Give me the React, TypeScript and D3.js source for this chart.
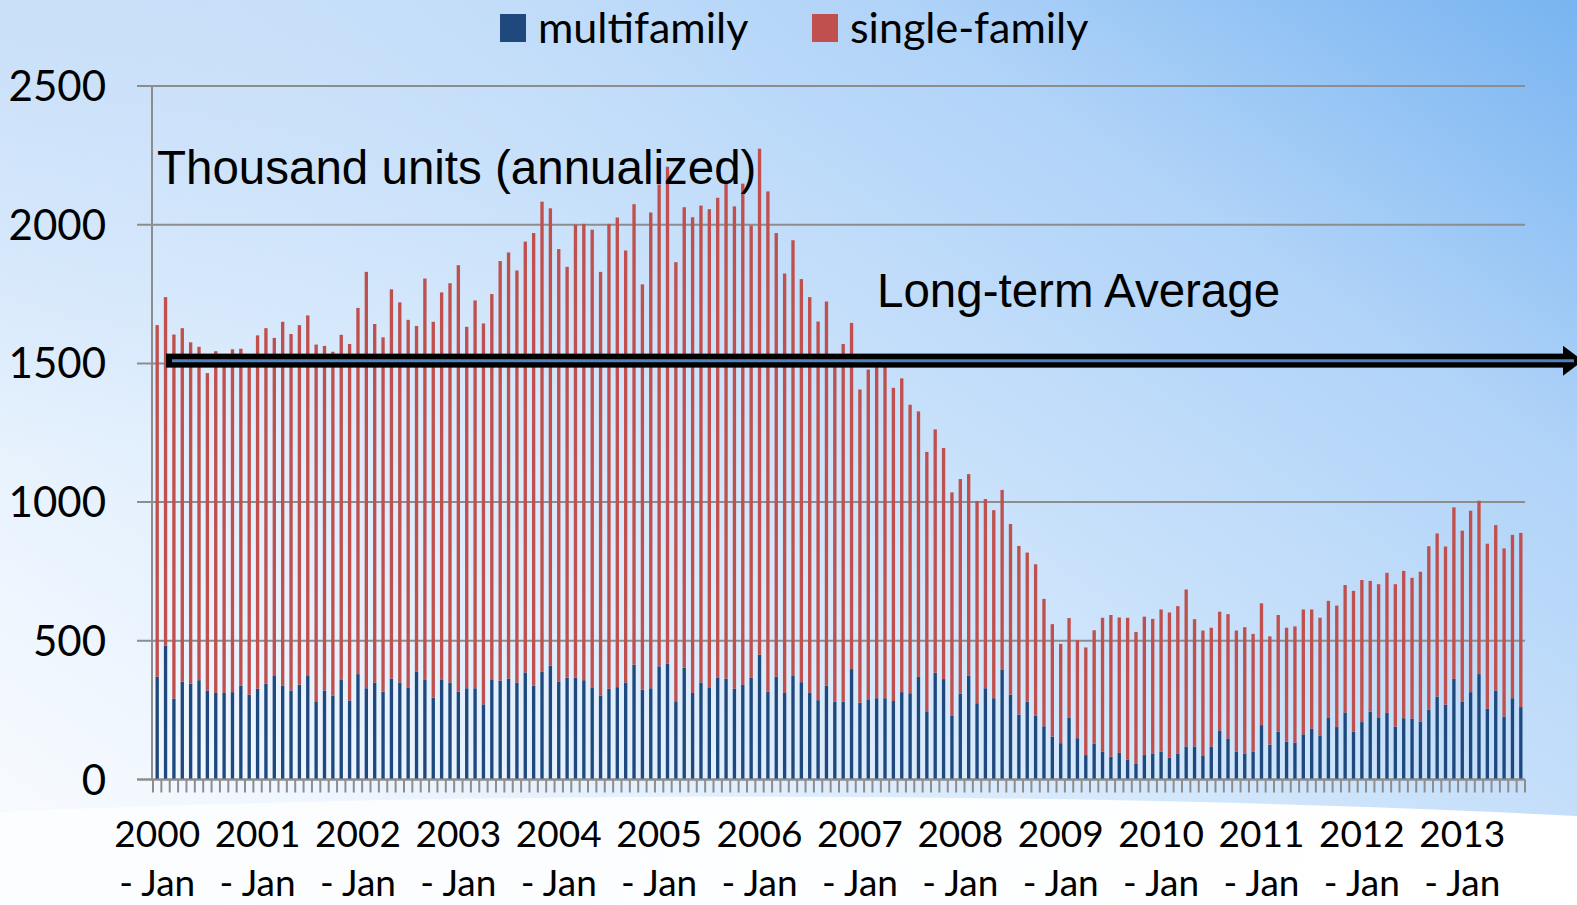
import { useEffect, useRef } from "react";
import * as d3 from "d3";

// Housing starts, thousand units (annualized), monthly Jan 2000 - Aug 2013
const YEARS = ["2000", "2001", "2002", "2003", "2004", "2005", "2006", "2007", "2008", "2009", "2010", "2011", "2012", "2013"];
const MONTH_NAMES = ["Jan", "Feb", "Mar", "Apr", "May", "Jun", "Jul", "Aug", "Sep", "Oct", "Nov", "Dec"];
const MONTH_COUNT = 164;

const MULTIFAMILY = [
  370, 483, 292, 353, 345, 358, 321, 312, 312, 315, 339, 306,
  327, 345, 373, 339, 321, 342, 373, 282, 321, 303, 361, 285,
  380, 329, 350, 317, 364, 350, 332, 388, 361, 295, 361, 350,
  317, 329, 329, 271, 361, 356, 364, 350, 386, 338, 388, 411,
  352, 367, 367, 358, 330, 303, 327, 333, 350, 414, 324, 329,
  408, 417, 282, 403, 312, 350, 330, 368, 364, 327, 341, 368,
  450, 317, 370, 312, 373, 351, 314, 286, 338, 280, 280, 398,
  277, 289, 293, 293, 283, 315, 311, 370, 246, 385, 362, 231,
  309, 375, 275, 329, 293, 397, 306, 234, 281, 231, 192, 155,
  131, 222, 149, 88, 130, 101, 82, 96, 72, 56, 88, 94,
  101, 79, 94, 119, 119, 87, 119, 177, 148, 101, 94, 101,
  196, 126, 172, 136, 133, 163, 184, 159, 224, 189, 242, 173,
  207, 245, 224, 240, 191, 221, 220, 209, 251, 299, 270, 363,
  281, 315, 380, 256, 321, 227, 293, 261,
];

const SINGLE_FAMILY = [
  1268, 1256, 1312, 1274, 1231, 1202, 1144, 1232, 1203, 1236, 1214, 1219,
  1274, 1282, 1219, 1311, 1285, 1296, 1300, 1286, 1242, 1239, 1242, 1285,
  1320, 1501, 1292, 1277, 1403, 1370, 1325, 1247, 1445, 1355, 1395, 1439,
  1537, 1303, 1398, 1373, 1389, 1513, 1536, 1485, 1553, 1632, 1695, 1648,
  1560, 1481, 1633, 1645, 1652, 1527, 1676, 1693, 1557, 1660, 1461, 1715,
  1737, 1792, 1583, 1660, 1715, 1719, 1726, 1729, 1787, 1739, 1807, 1629,
  1824, 1803, 1600, 1512, 1571, 1453, 1425, 1365, 1385, 1220, 1290, 1248,
  1129, 1189, 1197, 1197, 1129, 1131, 1040, 957, 935, 877, 833, 804,
  774, 726, 729, 682, 678, 647, 615, 608, 537, 545, 459, 405,
  358, 360, 353, 388, 408, 482, 511, 488, 511, 476, 499, 485,
  512, 523, 531, 566, 459, 450, 428, 428, 448, 436, 455, 424,
  439, 390, 421, 411, 419, 450, 429, 424, 420, 438, 459, 507,
  512, 471, 480, 505, 513, 531, 507, 540, 590, 588, 570, 618,
  616, 654, 625, 594, 596, 606, 589, 628,
];

const LONG_TERM_AVG = 1510;
const SERIES = ["multifamily", "single-family"];
const COLORS = ["#1f497d", "#c0504d"];

const WIDTH = 1577;
const HEIGHT = 905;
const LABEL_FONT = "Lato, 'Open Sans', sans-serif";
const NOTE_FONT = "'Liberation Sans', Arial, sans-serif";

const App = () => {
  const chartRef = useRef<SVGSVGElement>(null);

  useEffect(() => {
    const svg = d3.select(chartRef.current);
    svg.selectAll("*").remove();

    const months = YEARS.flatMap((yr) => MONTH_NAMES.map((m) => `${yr}-${m}`)).slice(0, MONTH_COUNT);
    const rows = months.map((key, i) => ({
      key,
      multifamily: MULTIFAMILY[i],
      "single-family": SINGLE_FAMILY[i],
    }));

    // fond dégradé
    const defs = svg.append("defs");
    const grad = defs
      .append("linearGradient")
      .attr("id", "bg")
      .attr("x1", "0")
      .attr("y1", "0.85")
      .attr("x2", "1")
      .attr("y2", "0");
    grad.append("stop").attr("offset", "0%").attr("stop-color", "#f6faff");
    grad.append("stop").attr("offset", "40%").attr("stop-color", "#d5e8fc");
    grad.append("stop").attr("offset", "75%").attr("stop-color", "#b0d3f8");
    grad.append("stop").attr("offset", "100%").attr("stop-color", "#78b4f1");

    const tl = defs
      .append("radialGradient")
      .attr("id", "tl")
      .attr("cx", "0")
      .attr("cy", "0")
      .attr("r", "0.5");
    tl.append("stop").attr("offset", "0%").attr("stop-color", "#c7def8").attr("stop-opacity", 0.8);
    tl.append("stop").attr("offset", "100%").attr("stop-color", "#c7def8").attr("stop-opacity", 0);

    const swoosh = defs
      .append("linearGradient")
      .attr("id", "swoosh")
      .attr("x1", "0")
      .attr("y1", "0")
      .attr("x2", "1")
      .attr("y2", "0");
    swoosh.append("stop").attr("offset", "0%").attr("stop-color", "#ffffff").attr("stop-opacity", 0.6);
    swoosh.append("stop").attr("offset", "50%").attr("stop-color", "#ffffff").attr("stop-opacity", 0.95);
    swoosh.append("stop").attr("offset", "100%").attr("stop-color", "#ffffff").attr("stop-opacity", 1);

    svg.append("rect").attr("width", WIDTH).attr("height", HEIGHT).attr("fill", "url(#bg)");
    svg.append("rect").attr("width", WIDTH).attr("height", HEIGHT).attr("fill", "url(#tl)");
    svg
      .append("path")
      .attr("d", `M0,${HEIGHT} L0,812 C500,790 1100,792 ${WIDTH},816 L${WIDTH},${HEIGHT} Z`)
      .attr("fill", "url(#swoosh)");

    const x = d3
      .scaleBand<string>()
      .domain(months)
      .range([153, 1525])
      .paddingInner(0.6)
      .paddingOuter(0.3);
    const y = d3.scaleLinear().domain([0, 2500]).range([779.5, 86]);
    const step = x.step();
    const gap = (step * 0.6) / 2;

    // grille horizontale + étiquettes Y
    const yTicks = y.ticks(5);
    svg
      .append("g")
      .selectAll("line")
      .data(yTicks)
      .enter()
      .append("line")
      .attr("x1", 137)
      .attr("x2", 1525)
      .attr("y1", (d) => y(d))
      .attr("y2", (d) => y(d))
      .attr("stroke", "#8d8d8d")
      .attr("stroke-width", 2);

    svg
      .append("g")
      .selectAll("text")
      .data(yTicks)
      .enter()
      .append("text")
      .attr("x", 106)
      .attr("y", (d) => y(d) + 15)
      .attr("text-anchor", "end")
      .attr("font-family", LABEL_FONT)
      .attr("font-size", 42)
      .attr("fill", "#000")
      .text((d) => String(d));

    // axe vertical
    svg
      .append("line")
      .attr("x1", 152)
      .attr("x2", 152)
      .attr("y1", y(2500))
      .attr("y2", y(0))
      .attr("stroke", "#8d8d8d")
      .attr("stroke-width", 2);

    // ticks de l'axe X (aux limites des catégories)
    const lastEdge = x(months[months.length - 1])! + x.bandwidth() + gap;
    svg
      .append("g")
      .selectAll("line")
      .data([...months, "end"])
      .enter()
      .append("line")
      .attr("x1", (d, i) => (i < months.length ? x(d)! - gap : lastEdge))
      .attr("x2", (d, i) => (i < months.length ? x(d)! - gap : lastEdge))
      .attr("y1", y(0))
      .attr("y2", y(0) + 13)
      .attr("stroke", "#8d8d8d")
      .attr("stroke-width", 2);

    // barres empilées
    const stacked = d3.stack<any>().keys(SERIES)(rows);
    svg
      .append("g")
      .selectAll("g")
      .data(stacked)
      .enter()
      .append("g")
      .attr("fill", (_, i) => COLORS[i])
      .selectAll("rect")
      .data((d) => d)
      .enter()
      .append("rect")
      .attr("x", (d) => x(d.data.key)!)
      .attr("width", x.bandwidth())
      .attr("y", (d) => y(d[1]))
      .attr("height", (d) => y(d[0]) - y(d[1]));

    svg
      .append("line")
      .attr("x1", 137)
      .attr("x2", 1525)
      .attr("y1", y(0))
      .attr("y2", y(0))
      .attr("stroke", "#8d8d8d")
      .attr("stroke-width", 2);

    // étiquettes X
    const janKeys = YEARS.map((yr) => `${yr}-Jan`);
    const xLabels = svg.append("g").attr("font-family", LABEL_FONT).attr("font-size", 37).attr("fill", "#000");
    xLabels
      .selectAll("text.year")
      .data(janKeys)
      .enter()
      .append("text")
      .attr("class", "year")
      .attr("x", (d) => x(d)! + x.bandwidth() / 2)
      .attr("y", 847)
      .attr("text-anchor", "middle")
      .text((d) => d.split("-")[0]);
    xLabels
      .selectAll("text.month")
      .data(janKeys)
      .enter()
      .append("text")
      .attr("class", "month")
      .attr("x", (d) => x(d)! + x.bandwidth() / 2)
      .attr("y", 896)
      .attr("text-anchor", "middle")
      .text((d) => `- ${d.split("-")[1]}`);

    // flèche de la moyenne long terme
    const ay = y(LONG_TERM_AVG);
    svg
      .append("rect")
      .attr("x", 166)
      .attr("y", ay - 7)
      .attr("width", 1400)
      .attr("height", 14)
      .attr("fill", "#000");
    svg
      .append("path")
      .attr("d", `M1563,${ay - 15} L1583,${ay} L1563,${ay + 15} Z`)
      .attr("fill", "#000");
    svg
      .append("line")
      .attr("x1", 172)
      .attr("x2", 1574)
      .attr("y1", ay)
      .attr("y2", ay)
      .attr("stroke", "#4f81bd")
      .attr("stroke-width", 3);

    // annotations
    svg
      .append("text")
      .attr("x", 157)
      .attr("y", 184)
      .attr("font-family", NOTE_FONT)
      .attr("font-size", 47.5)
      .attr("fill", "#000")
      .text("Thousand units (annualized)");
    svg
      .append("text")
      .attr("x", 877)
      .attr("y", 307)
      .attr("font-family", NOTE_FONT)
      .attr("font-size", 47.5)
      .attr("fill", "#000")
      .text("Long-term Average");

    // légende
    const legendX = [500, 812];
    const legend = svg
      .append("g")
      .selectAll("g")
      .data(SERIES)
      .enter()
      .append("g")
      .attr("transform", (_, i) => `translate(${legendX[i]},0)`);
    legend
      .append("rect")
      .attr("x", 0)
      .attr("y", 14)
      .attr("width", 26)
      .attr("height", 28)
      .attr("fill", (_, i) => COLORS[i]);
    legend
      .append("text")
      .attr("x", 38)
      .attr("y", 43)
      .attr("font-family", LABEL_FONT)
      .attr("font-size", 43)
      .attr("fill", "#000")
      .text((d) => d);
  }, []);

  return (
    <svg
      ref={chartRef}
      width={WIDTH}
      height={HEIGHT}
      style={{ position: "absolute", left: 0, top: 0, display: "block" }}
    />
  );
};

export default App;
